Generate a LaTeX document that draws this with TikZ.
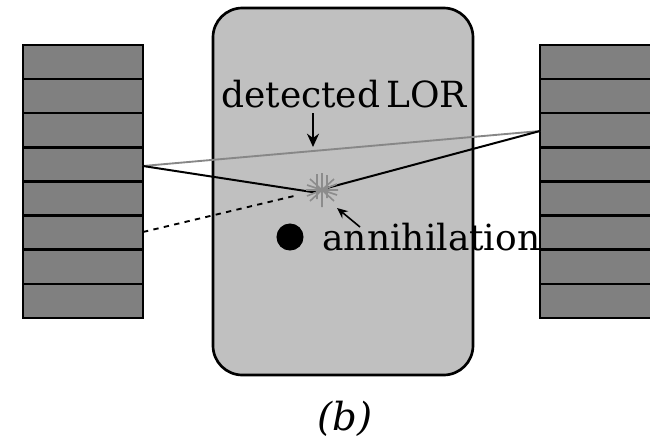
\documentclass[tikz,border=0pt]{standalone}
\usepackage{fontspec}
\setmainfont{DejaVu Serif}
\usetikzlibrary{arrows.meta}

\tikzset{every picture/.style={line width=0.75pt}}

\begin{document}
\begin{tikzpicture}[x=0.75pt,y=0.75pt,yscale=-1,xscale=1]
\useasboundingbox (0,0) rectangle (650,440);
\clip (0,0) rectangle (650,440);

%Shape: Rounded Rect [id:dp4410937265518203] 
\draw  [fill={rgb, 255:red, 192; green, 192; blue, 192 }  ,fill opacity=1 ,line width=2pt ,rounded corners=22] (213,8) rectangle (473,375) ;

%Shape: Rectangle [id:dp1736502281930466] 
\draw  [fill={rgb, 255:red, 128; green, 128; blue, 128 }  ,fill opacity=1 ,line width=2pt ] (23,45) -- (143,45) -- (143,79) -- (23,79) -- cycle ;
%Shape: Rectangle [id:dp9023817460153318] 
\draw  [fill={rgb, 255:red, 128; green, 128; blue, 128 }  ,fill opacity=1 ,line width=2pt ] (23,79) -- (143,79) -- (143,113) -- (23,113) -- cycle ;
%Shape: Rectangle [id:dp3328451902764107] 
\draw  [fill={rgb, 255:red, 128; green, 128; blue, 128 }  ,fill opacity=1 ,line width=2pt ] (23,113) -- (143,113) -- (143,147.5) -- (23,147.5) -- cycle ;
%Shape: Rectangle [id:dp6651098213405927] 
\draw  [fill={rgb, 255:red, 128; green, 128; blue, 128 }  ,fill opacity=1 ,line width=2pt ] (23,147.5) -- (143,147.5) -- (143,181.5) -- (23,181.5) -- cycle ;
%Shape: Rectangle [id:dp2581049917364052] 
\draw  [fill={rgb, 255:red, 128; green, 128; blue, 128 }  ,fill opacity=1 ,line width=2pt ] (23,181.5) -- (143,181.5) -- (143,215.5) -- (23,215.5) -- cycle ;
%Shape: Rectangle [id:dp8137402951163389] 
\draw  [fill={rgb, 255:red, 128; green, 128; blue, 128 }  ,fill opacity=1 ,line width=2pt ] (23,215.5) -- (143,215.5) -- (143,249.5) -- (23,249.5) -- cycle ;
%Shape: Rectangle [id:dp0479125367782219] 
\draw  [fill={rgb, 255:red, 128; green, 128; blue, 128 }  ,fill opacity=1 ,line width=2pt ] (23,249.5) -- (143,249.5) -- (143,284) -- (23,284) -- cycle ;
%Shape: Rectangle [id:dp5592036617204481] 
\draw  [fill={rgb, 255:red, 128; green, 128; blue, 128 }  ,fill opacity=1 ,line width=2pt ] (23,284) -- (143,284) -- (143,318) -- (23,318) -- cycle ;

%Shape: Rectangle [id:dp7260114859935172] 
\draw  [fill={rgb, 255:red, 128; green, 128; blue, 128 }  ,fill opacity=1 ,line width=2pt ] (540,45) -- (660,45) -- (660,79) -- (540,79) -- cycle ;
%Shape: Rectangle [id:dp1904473325816603] 
\draw  [fill={rgb, 255:red, 128; green, 128; blue, 128 }  ,fill opacity=1 ,line width=2pt ] (540,79) -- (660,79) -- (660,113) -- (540,113) -- cycle ;
%Shape: Rectangle [id:dp6385204177192845] 
\draw  [fill={rgb, 255:red, 128; green, 128; blue, 128 }  ,fill opacity=1 ,line width=2pt ] (540,113) -- (660,113) -- (660,147.5) -- (540,147.5) -- cycle ;
%Shape: Rectangle [id:dp4467012385290711] 
\draw  [fill={rgb, 255:red, 128; green, 128; blue, 128 }  ,fill opacity=1 ,line width=2pt ] (540,147.5) -- (660,147.5) -- (660,181.5) -- (540,181.5) -- cycle ;
%Shape: Rectangle [id:dp9950162834719251] 
\draw  [fill={rgb, 255:red, 128; green, 128; blue, 128 }  ,fill opacity=1 ,line width=2pt ] (540,181.5) -- (660,181.5) -- (660,215.5) -- (540,215.5) -- cycle ;
%Shape: Rectangle [id:dp3071895526614482] 
\draw  [fill={rgb, 255:red, 128; green, 128; blue, 128 }  ,fill opacity=1 ,line width=2pt ] (540,215.5) -- (660,215.5) -- (660,249.5) -- (540,249.5) -- cycle ;
%Shape: Rectangle [id:dp6218830394557716] 
\draw  [fill={rgb, 255:red, 128; green, 128; blue, 128 }  ,fill opacity=1 ,line width=2pt ] (540,249.5) -- (660,249.5) -- (660,284) -- (540,284) -- cycle ;
%Shape: Rectangle [id:dp8842917736150249] 
\draw  [fill={rgb, 255:red, 128; green, 128; blue, 128 }  ,fill opacity=1 ,line width=2pt ] (540,284) -- (660,284) -- (660,318) -- (540,318) -- cycle ;

% detector hit points and annihilation point
\coordinate (hitL) at (143,166) ;
\coordinate (hitR) at (540,131) ;
\coordinate (hitD) at (143,232) ;
\coordinate (kink) at (312,192) ;
\coordinate (dashEnd) at (294,196) ;
\coordinate (star) at (322,190) ;

%Straight Lines [id:da5120783349016871] 
\draw [color={rgb, 255:red, 135; green, 135; blue, 135 }  ,draw opacity=1 ,line width=1.4pt ]   (hitL) -- (hitR) ;
%Straight Lines [id:da2908113736201568] 
\draw [line width=1.5pt ]   (hitL) -- (kink) -- (hitR) ;
%Straight Lines [id:da7736649158820134] 
\draw [line width=1.4pt ,dash pattern={on 4pt off 4pt}]   (hitD) -- (dashEnd) ;

%Shape: Star [id:dp3961284905173402] 
\draw [color={rgb, 255:red, 140; green, 140; blue, 140 }  ,draw opacity=1 ,line width=1.2pt ] 
  (star) ++(-16,0) -- ++(32,0) 
  (star) ++(0,-17) -- ++(0,34) 
  (star) ++(-5,-16) -- ++(0,25) 
  (star) ++(5,-15) -- ++(0,23) 
  (star) ++(-12,-11) -- ++(24,22) 
  (star) ++(-12,11) -- ++(24,-22) 
  (star) ++(-15,-5) -- ++(30,10) 
  (star) ++(-15,6) -- ++(30,-12) ;

%Shape: Circle [id:dp2755018143620894] 
\draw  [fill={rgb, 255:red, 0; green, 0; blue, 0 }  ,fill opacity=1 ] (290,237) circle (13) ;

% Text Node
\draw (344,107) node (lorLbl) [anchor=base ,inner sep=0pt ,font=\fontsize{27}{32}\selectfont] {detected\,LOR};
% Text Node
\draw (322,250) node (annLbl) [anchor=base west ,inner sep=0pt ,font=\fontsize{27}{32}\selectfont] {annihilation};
% Text Node
\draw (345,430) node (capLbl) [anchor=base ,inner sep=0pt ,font=\fontsize{29}{34}\selectfont\itshape] {(b)};

%Straight Lines [id:da6613028459120387] 
\draw [line width=1.4pt ,-{Stealth[length=10pt,width=9pt]}]   (313,113) -- (313,147) ;
%Straight Lines [id:da1842739051266305] 
\draw [line width=1.2pt ,-{Stealth[length=8pt,width=7pt]}]   (360,227) -- (337,208) ;

\end{tikzpicture}
\end{document}
